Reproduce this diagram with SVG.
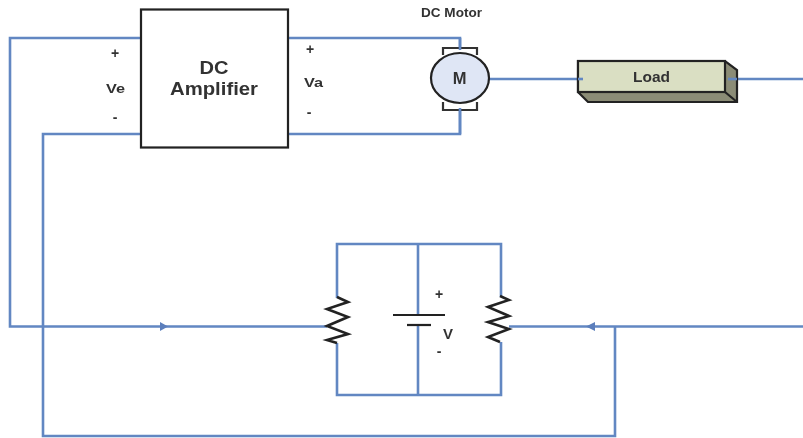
<svg xmlns="http://www.w3.org/2000/svg" width="803" height="438" viewBox="0 0 803 438">
<style>
.w{fill:none;stroke:#6287c2;stroke-width:2.6}
.k{fill:none;stroke:#222;stroke-width:2.2}
.t{font-family:"Liberation Sans",Arial,sans-serif;font-weight:bold;fill:#333;text-anchor:middle}
.r{fill:none;stroke:#222;stroke-width:2.6;stroke-linejoin:miter}
</style>
<defs><filter id="soft" filterUnits="userSpaceOnUse" x="0" y="0" width="803" height="438"><feGaussianBlur stdDeviation="0.45"/></filter></defs>
<rect width="803" height="438" fill="#fff"/>
<g filter="url(#soft)">
<g id="connectors">
<path class="w" d="M141 38H10V326.500H327"/>
<path class="w" d="M141 134H43V436H615V326.500"/>
<path class="w" d="M288 38H460V50"/>
<path class="w" d="M288 134H460V108"/>
<path class="w" d="M489 79H583"/>
<path class="w" d="M728 79H803"/>
<path class="w" d="M803 326.500H509"/>
<path class="w" d="M337 298V244H501V297"/>
<path class="w" d="M337 343V395H501V342"/>
<path class="w" d="M418 244V315"/>
<path class="w" d="M418 325V395"/>
<path d="M160 322L168 326.500L160 331Z" fill="#5b7fbc"/>
<path d="M595 322L586 326.500L595 331Z" fill="#5b7fbc"/>
</g>
<g id="amplifier">
<rect x="141" y="9.500" width="147" height="138" fill="none" stroke="#222" stroke-width="2.2"/>
<text class="t" x="214" y="74" font-size="18.500" textLength="29" lengthAdjust="spacingAndGlyphs">DC</text>
<text class="t" x="214" y="95" font-size="18.500" textLength="88" lengthAdjust="spacingAndGlyphs">Amplifier</text>
</g>
<g id="ve-labels">
<text class="t" x="115" y="58" font-size="14">+</text>
<text class="t" x="115.500" y="92.500" font-size="13" textLength="19" lengthAdjust="spacingAndGlyphs">Ve</text>
<text class="t" x="115" y="122" font-size="14">-</text>
</g>
<g id="va-labels">
<text class="t" x="310" y="54" font-size="14">+</text>
<text class="t" x="313.500" y="87" font-size="13" textLength="19" lengthAdjust="spacingAndGlyphs">Va</text>
<text class="t" x="309" y="117" font-size="14">-</text>
</g>
<g id="motor">
<text class="t" x="451.500" y="17" font-size="12" textLength="61" lengthAdjust="spacingAndGlyphs">DC Motor</text>
<path d="M443 55V48H477V55M443 102V110H477V102" fill="#fff" stroke="#333" stroke-width="2.2"/>
<path class="w" d="M460 38V50"/>
<path class="w" d="M460 108V134"/>
<ellipse cx="460" cy="78" rx="29" ry="25" fill="#dfe6f5" stroke="#222" stroke-width="2.2"/>
<text class="t" x="459.500" y="84" font-size="16.500">M</text>
</g>
<g id="load">
<path d="M578 61H725L737 70V102H588L578 92Z" fill="#8b8c76" stroke="#222" stroke-width="2.2"/>
<rect x="578" y="61" width="147" height="31" fill="#dadfc3" stroke="#222" stroke-width="2.2"/>
<path class="k" d="M725 92L737 102"/>
<path class="w" d="M578 79H583"/>
<path class="w" d="M728 79H737"/>
<text class="t" x="651.500" y="81.500" font-size="14" textLength="37" lengthAdjust="spacingAndGlyphs">Load</text>
</g>
<g id="left-resistor">
<path class="r" d="M337 297L348 302L327 309L348 317L327 326L348 334L327 340L337 343"/>
</g>
<g id="right-resistor">
<path class="r" d="M500 296L509 300L488 307L509 316L488 322L509 329L488 337L500 342"/>
</g>
<g id="battery">
<path class="k" d="M393 315H445"/>
<path class="k" d="M407 325H431"/>
<text class="t" x="439" y="299" font-size="14">+</text>
<text class="t" x="448" y="338.500" font-size="15">V</text>
<text class="t" x="439" y="356" font-size="14">-</text>
</g>
</g>
</svg>
